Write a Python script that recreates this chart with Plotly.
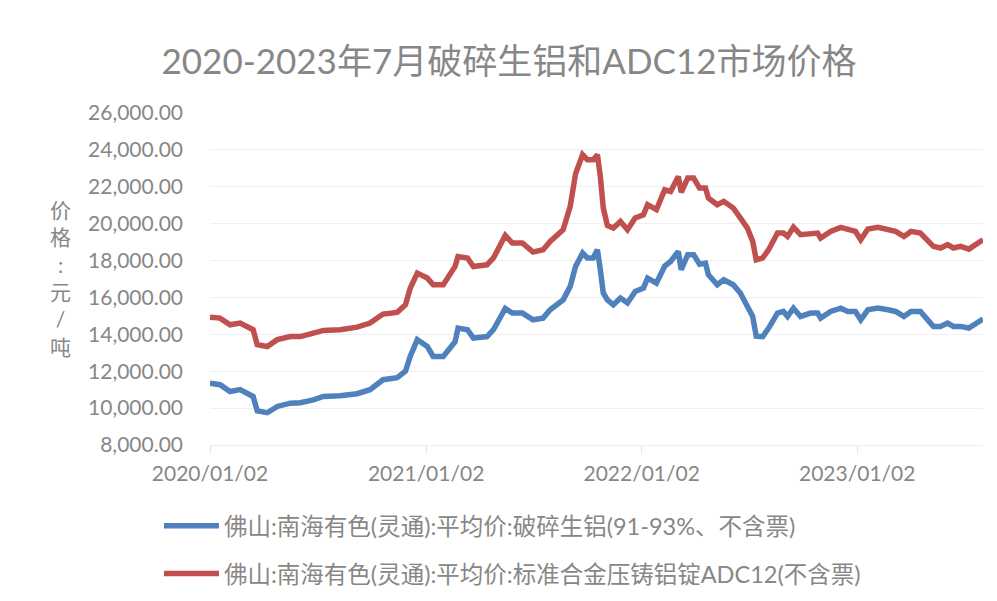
import plotly.graph_objects as go

dates = [
    "2020-01-02", "2020-01-19", "2020-02-05", "2020-02-22", "2020-03-15", "2020-03-22",
    "2020-04-08", "2020-04-25", "2020-05-17", "2020-06-03", "2020-06-25", "2020-07-12",
    "2020-08-09", "2020-09-07", "2020-09-29", "2020-10-21", "2020-11-14", "2020-11-28",
    "2020-12-06", "2020-12-18", "2021-01-04", "2021-01-14", "2021-01-31", "2021-02-20",
    "2021-02-25", "2021-03-13", "2021-03-23", "2021-04-15", "2021-04-26", "2021-05-11",
    "2021-05-16", "2021-05-28", "2021-06-14", "2021-07-02", "2021-07-19", "2021-07-31",
    "2021-08-22", "2021-09-03", "2021-09-12", "2021-09-24", "2021-10-02", "2021-10-12",
    "2021-10-19", "2021-10-24", "2021-10-29", "2021-11-05", "2021-11-15", "2021-11-27",
    "2021-12-09", "2021-12-22", "2022-01-05", "2022-01-12", "2022-01-27", "2022-02-10",
    "2022-02-20", "2022-03-05", "2022-03-10", "2022-03-21", "2022-03-31", "2022-04-10",
    "2022-04-20", "2022-04-25", "2022-05-10", "2022-05-21", "2022-06-06", "2022-06-18",
    "2022-06-30", "2022-07-09", "2022-07-15", "2022-07-26", "2022-08-05", "2022-08-20",
    "2022-08-30", "2022-09-06", "2022-09-16", "2022-09-28", "2022-10-15", "2022-10-27",
    "2022-11-01", "2022-11-18", "2022-12-05", "2022-12-17", "2022-12-30", "2023-01-08",
    "2023-01-20", "2023-02-06", "2023-02-23", "2023-03-08", "2023-03-22", "2023-04-03",
    "2023-04-19", "2023-05-03", "2023-05-11", "2023-05-23", "2023-06-04", "2023-06-14",
    "2023-06-26", "2023-07-10", "2023-07-22", "2023-08-03",
]

scrap_al = [
    11350, 11270, 10900, 11000, 10630, 9850,
    9750, 10090, 10270, 10290, 10450, 10630,
    10670, 10780, 11000, 11540, 11650, 12000,
    12800, 13710, 13340, 12800, 12800, 13600,
    14340, 14250, 13800, 13880, 14250, 15150,
    15400, 15150, 15150, 14790, 14880, 15330,
    15870, 16600, 17680, 18410, 18140, 18140,
    18590, 17500, 16240, 15870, 15600, 15970,
    15700, 16330, 16510, 17050, 16780, 17700,
    17950, 18500, 17500, 18320, 18320, 17800,
    17860, 17230, 16690, 16960, 16690, 16240,
    15510, 14970, 13900, 13880, 14340, 15150,
    15240, 14970, 15420, 14970, 15150, 15150,
    14880, 15240, 15420, 15240, 15240, 14790,
    15330, 15420, 15330, 15240, 14970, 15240,
    15240, 14790, 14430, 14430, 14610, 14430,
    14430, 14340, 14610, 14830,
]

adc12 = [
    14920, 14880, 14520, 14610, 14250, 13440,
    13340, 13710, 13880, 13880, 14070, 14210,
    14250, 14390, 14610, 15100, 15190, 15600,
    16500, 17320, 17050, 16690, 16690, 17680,
    18220, 18140, 17680, 17770, 18140, 18950,
    19360, 18950, 18950, 18460, 18590, 19040,
    19670, 20940, 22700, 23740, 23470, 23470,
    23740, 22560, 20850, 19900, 19760, 20120,
    19670, 20310, 20480, 21030, 20760, 21840,
    21750, 22560, 21700, 22470, 22470, 21930,
    21930, 21390, 21030, 21210, 20850, 20310,
    19760, 19040, 18040, 18140, 18590, 19490,
    19490, 19310, 19810, 19400, 19490, 19490,
    19220, 19580, 19800, 19670, 19580, 19130,
    19710, 19800, 19710, 19580, 19310, 19580,
    19490, 19040, 18770, 18680, 18860, 18680,
    18770, 18620, 18860, 19130,
]

series_names = [
    "佛山:南海有色(灵通):平均价:破碎生铝(91-93%、不含票)",
    "佛山:南海有色(灵通):平均价:标准合金压铸铝锭ADC12(不含票)",
]
title_text = "2020-2023年7月破碎生铝和ADC12市场价格"
y_title_chars = ["价", "格", ":", "元", "/", "吨"]
x_tick_vals = ["2020-01-02", "2021-01-02", "2022-01-02", "2023-01-02"]
x_tick_text = ["2020/01/02", "2021/01/02", "2022/01/02", "2023/01/02"]
y_tick_vals = [8000, 10000, 12000, 14000, 16000, 18000, 20000, 22000, 24000, 26000]

FONT = "Lato, 'Noto Sans CJK SC', sans-serif"
TXT = "#878787"

fig = go.Figure()
fig.add_trace(go.Scatter(x=dates, y=scrap_al, mode="lines", name=series_names[0],
                         line=dict(color="#4f81bd", width=5.5), legendgroup="a"))
fig.add_trace(go.Scatter(x=dates, y=adc12, mode="lines", name=series_names[1],
                         line=dict(color="#c0504d", width=5.5), legendgroup="b"))

fig.add_annotation(text="<br>".join(y_title_chars), xref="paper", yref="paper",
                   x=-0.194, y=0.503, xanchor="center", yanchor="middle",
                   showarrow=False, align="center",
                   font=dict(family=FONT, size=21, color=TXT))

W, H = 989, 601  # page body offset of 8px is compensated
fig.update_layout(
    width=W, height=H,
    paper_bgcolor="white", plot_bgcolor="white",
    margin=dict(l=202, r=14, t=105, b=164),
    title=dict(text=title_text, x=501 / W, xref="container", xanchor="center",
               y=1 - 54 / H, yref="container", yanchor="middle",
               font=dict(family=FONT, size=35, color=TXT)),
    showlegend=True,
    legend=dict(orientation="v", x=-0.066, xanchor="left", y=-0.178, yanchor="top",
                traceorder="grouped", tracegroupgap=14, itemwidth=55,
                font=dict(family=FONT, size=23.5, color=TXT),
                bgcolor="rgba(0,0,0,0)"),
    xaxis=dict(type="date", range=["2020-01-02", "2023-08-03"],
               tickvals=x_tick_vals, ticktext=x_tick_text,
               showgrid=False, zeroline=False,
               showline=True, linecolor="#eeeeee", linewidth=1,
               ticks="outside", ticklen=7, tickcolor="#e3e3e3", tickwidth=1,
               ticklabelstandoff=3,
               tickfont=dict(family=FONT, size=21, color=TXT)),
    yaxis=dict(range=[8000, 26000], tickvals=y_tick_vals, tickformat=",.2f",
               showgrid=True, gridcolor="#efefef", gridwidth=1,
               zeroline=False, showline=False, ticks="",
               ticklabelstandoff=26,
               tickfont=dict(family=FONT, size=21, color=TXT)),
)

fig.write_html("out.html")
